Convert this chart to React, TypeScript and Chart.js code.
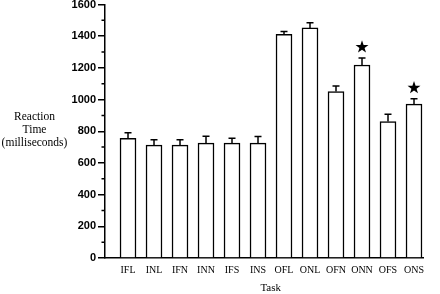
import React, { useEffect, useRef } from 'react';
import { Chart, registerables } from 'chart.js';

Chart.register(...registerables);

const taskLabels = ['IFL', 'INL', 'IFN', 'INN', 'IFS', 'INS', 'OFL', 'ONL', 'OFN', 'ONN', 'OFS', 'ONS'];
const meanTimes = [756, 712, 712, 725, 725, 725, 1411, 1452, 1051, 1218, 861, 971];
const errorBars = [34, 34, 34, 44, 31, 42, 19, 33, 34, 44, 47, 34];
const starValues: (number | null)[] = [null, null, null, null, null, null, null, null, null, 1331, null, 1074];
const yTitleLines = ['Reaction', 'Time', '(milliseconds)'];
const xTitle = 'Task';
const minorTickValues = [100, 300, 500, 700, 900, 1100, 1300, 1500];

function drawStar(ctx: CanvasRenderingContext2D, cx: number, cy: number, R: number, r: number) {
  ctx.beginPath();
  for (let k = 0; k < 10; k++) {
    const rad = k % 2 === 0 ? R : r;
    const a = -Math.PI / 2 + (k * Math.PI) / 5;
    const px = cx + rad * Math.cos(a);
    const py = cy + rad * Math.sin(a);
    if (k === 0) ctx.moveTo(px, py);
    else ctx.lineTo(px, py);
  }
  ctx.closePath();
  ctx.fill();
}

export default function App() {
  const ref = useRef<HTMLCanvasElement>(null);

  useEffect(() => {
    document.body.style.margin = '0';
    const canvas = ref.current!;
    const black = '#000000';

    const extras = {
      id: 'extras',
      afterDatasetsDraw(chart: any) {
        const { ctx, scales, chartArea } = chart;
        const x = scales.x;
        const y = scales.y;
        ctx.save();
        ctx.strokeStyle = black;
        ctx.fillStyle = black;
        ctx.lineWidth = 1.5;
        // error bars
        meanTimes.forEach((m, i) => {
          const px = x.getPixelForValue(i);
          const y0 = y.getPixelForValue(m);
          const y1 = y.getPixelForValue(m + errorBars[i]);
          ctx.beginPath();
          ctx.moveTo(px, y0);
          ctx.lineTo(px, y1);
          ctx.moveTo(px - 3.5, y1);
          ctx.lineTo(px + 3.5, y1);
          ctx.stroke();
        });
        // stars
        starValues.forEach((v, i) => {
          if (v == null) return;
          drawStar(ctx, x.getPixelForValue(i), y.getPixelForValue(v), 6.8, 2.7);
        });
        // minor ticks
        ctx.beginPath();
        minorTickValues.forEach((v) => {
          const py = y.getPixelForValue(v);
          ctx.moveTo(chartArea.left - 3.5, py);
          ctx.lineTo(chartArea.left, py);
        });
        ctx.stroke();
        // titles
        ctx.font = '11.5px "Liberation Serif"';
        ctx.textAlign = 'center';
        ctx.textBaseline = 'alphabetic';
        yTitleLines.forEach((t, k) => ctx.fillText(t, 34.5, 120 + 13 * k));
        ctx.font = '11px "Liberation Serif"';
        ctx.textBaseline = 'middle';
        ctx.fillText(xTitle, 270.7, 288);
        ctx.restore();
      },
    };

    const chart = new Chart(canvas, {
      type: 'bar',
      data: {
        datasets: [
          {
            data: meanTimes.map((v, i) => ({ x: i, y: v })),
            backgroundColor: '#ffffff',
            borderColor: black,
            borderWidth: 1.5,
            barThickness: 16,
          } as any,
        ],
      },
      options: {
        responsive: false,
        animation: false,
        devicePixelRatio: 1,
        layout: { padding: { top: 4.5, right: 17, bottom: 0, left: 0 } },
        plugins: { legend: { display: false }, tooltip: { enabled: false } },
        scales: {
          x: {
            type: 'linear',
            offset: false,
            min: -0.885,
            max: 11.346,
            afterBuildTicks: (s: any) => {
              s.ticks = taskLabels.map((_, i) => ({ value: i }));
            },
            afterFit: (s: any) => {
              s.height = 36;
              s.paddingLeft = 0;
              s.paddingRight = 0;
            },
            ticks: {
              autoSkip: false,
              maxRotation: 0,
              padding: 6,
              color: black,
              font: { family: '"Liberation Serif"', size: 10 },
              callback: (v: any) => taskLabels[v] ?? '',
            },
            grid: { display: false, drawTicks: false },
            border: { display: true, color: black, width: 1.5 },
          },
          y: {
            min: 0,
            max: 1600,
            afterFit: (s: any) => {
              s.width = 105;
              s.paddingTop = 0;
              s.paddingBottom = 0;
            },
            ticks: {
              stepSize: 200,
              padding: 2,
              color: black,
              font: { family: '"Liberation Sans"', size: 11, weight: 'bold' },
              callback: (v: any) => String(v),
            },
            grid: { drawOnChartArea: false, tickLength: 7, color: black, lineWidth: 1.5 },
            border: { display: true, color: black, width: 1.5 },
          },
        },
      } as any,
      plugins: [extras],
    });

    return () => chart.destroy();
  }, []);

  return (
    <div style={{ width: 440, height: 294 }}>
      <canvas ref={ref} width={440} height={294} />
    </div>
  );
}
